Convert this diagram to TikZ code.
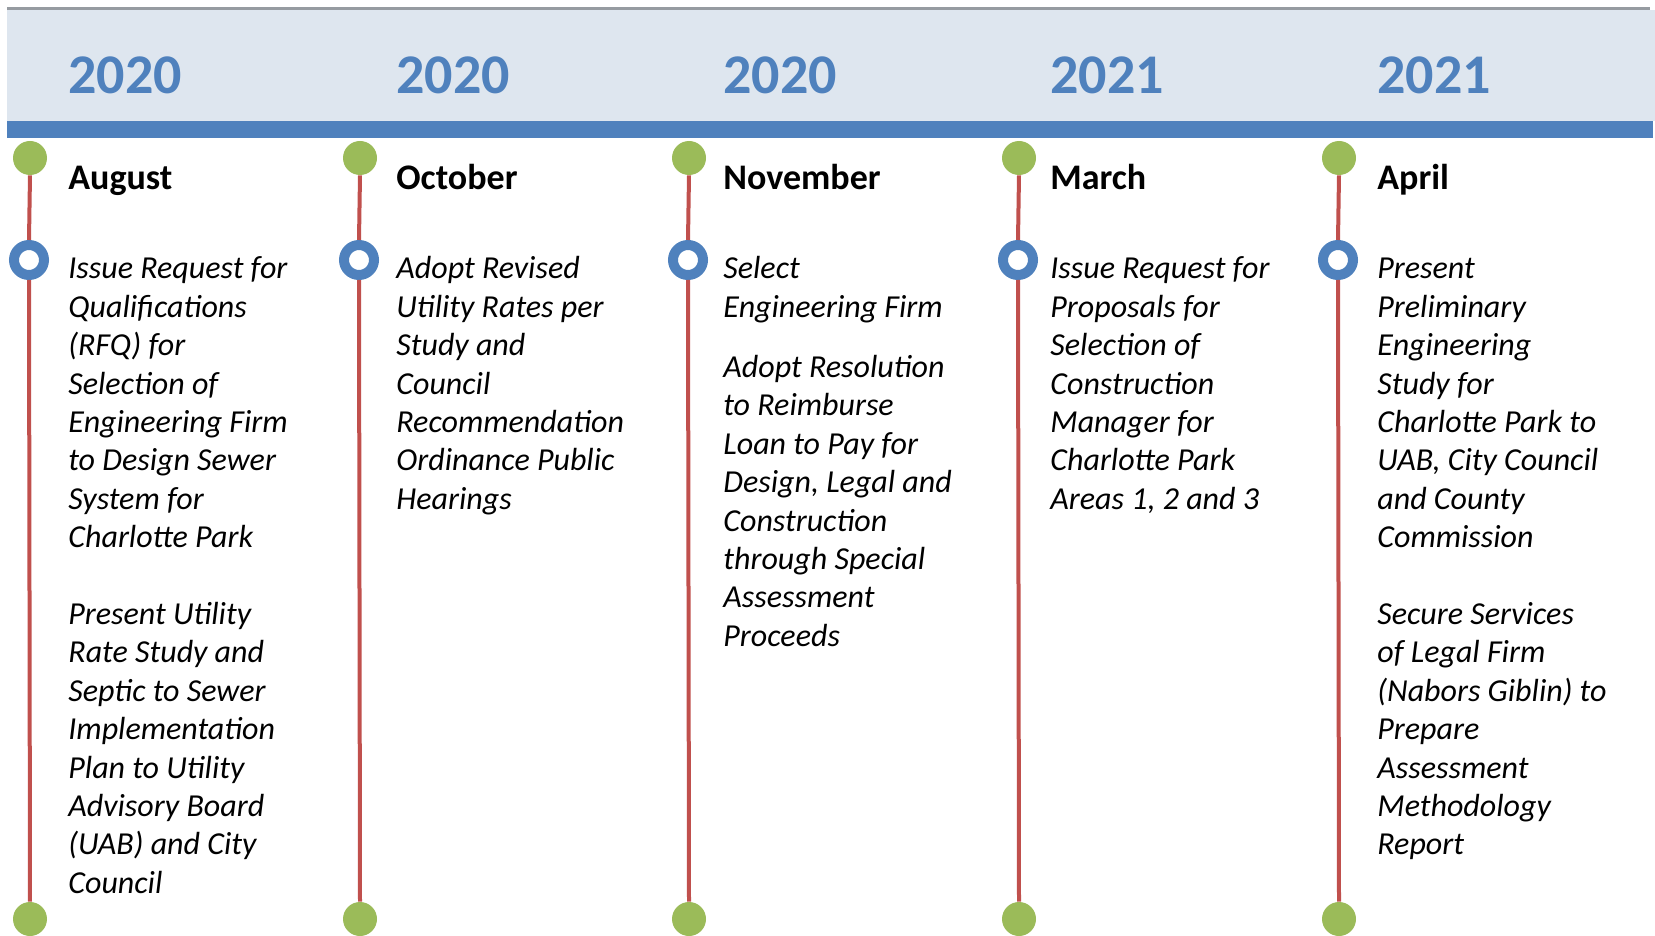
\documentclass[tikz,border=0pt]{standalone}
\usepackage{fontspec}
\setmainfont{Carlito}
\definecolor{bandfill}{RGB}{222,230,239}
\definecolor{barblue}{RGB}{79,129,189}
\definecolor{topgray}{RGB}{150,155,161}
\definecolor{dotgreen}{RGB}{155,187,89}
\definecolor{linered}{RGB}{192,80,77}
\newcommand\colbody[1]{\parbox[t]{160pt}{\raggedright #1}}
\tikzset{
 year/.style={anchor=base west, inner sep=0, text=barblue, font=\fontsize{28}{34}\selectfont\bfseries},
 month/.style={anchor=base west, inner sep=0, font=\fontsize{18}{21}\selectfont\bfseries},
 body/.style={anchor=base west, inner sep=0, font=\fontsize{16}{19.2}\selectfont\itshape},
 gdot/.style={circle, fill=dotgreen, minimum size=17pt, inner sep=0},
 ring/.style={circle, draw=barblue, line width=5pt, fill=white, minimum size=15pt, inner sep=0},
 stem/.style={draw=linered, line width=2pt},
}
\begin{document}
\begin{tikzpicture}[x=0.5pt,y=-0.5pt]
\useasboundingbox (0,0) rectangle (1655,936);
% header band
\fill[topgray] (7,7) rectangle (1650,10.5);
\fill[bandfill] (7,10.5) rectangle (1655,121);
\fill[barblue] (7,121) rectangle (1653,138);
% years
\node[year] (y1) at (68,94) {2020};
\node[year] (y2) at (396,94) {2020};
\node[year] (y3) at (723,94) {2020};
\node[year] (y4) at (1050,94) {2021};
\node[year] (y5) at (1377,94) {2021};
% months
\node[month] (m1) at (68,190) {August};
\node[month] (m2) at (396,190) {October};
\node[month] (m3) at (723,190) {November};
\node[month] (m4) at (1050,190) {March};
\node[month] (m5) at (1377,190) {April};
% dots and rings
\foreach \i/\x in {1/30,2/360,3/689,4/1019,5/1339}{
  \node[gdot] (g\i) at (\x,158) {};
  \node[ring] (r\i) at (\x-1,260) {};
  \node[gdot] (b\i) at (\x,919) {};
  \draw[stem] (g\i.south) -- (r\i.north);
  \draw[stem] (r\i.south) -- (b\i.north);
}
% bodies
\node[body] (t1) at (68,279) {\colbody{Issue Request for\\ Qualifications\\ (RFQ) for\\ Selection of\\ Engineering Firm\\ to Design Sewer\\ System for\\ Charlotte Park\\[19.2pt] Present Utility\\ Rate Study and\\ Septic to Sewer\\ Implementation\\ Plan to Utility\\ Advisory Board\\ (UAB) and City\\ Council}};
\node[body] (t2) at (396,279) {\colbody{Adopt Revised\\ Utility Rates per\\ Study and\\ Council\\ Recommendation\\ Ordinance Public\\ Hearings}};
\node[body] (t3) at (723,279) {\colbody{Select\\ Engineering Firm\\[10.9pt] Adopt Resolution\\ to Reimburse\\ Loan to Pay for\\ Design, Legal and\\ Construction\\ through Special\\ Assessment\\ Proceeds}};
\node[body] (t4) at (1050,279) {\colbody{Issue Request for\\ Proposals for\\ Selection of\\ Construction\\ Manager for\\ Charlotte Park\\ Areas 1, 2 and 3}};
\node[body] (t5) at (1377,279) {\colbody{Present\\ Preliminary\\ Engineering\\ Study for\\ Charlotte Park to\\ UAB, City Council\\ and County\\ Commission\\[19.2pt] Secure Services\\ of Legal Firm\\ (Nabors Giblin) to\\ Prepare\\ Assessment\\ Methodology\\ Report}};
\end{tikzpicture}
\end{document}
